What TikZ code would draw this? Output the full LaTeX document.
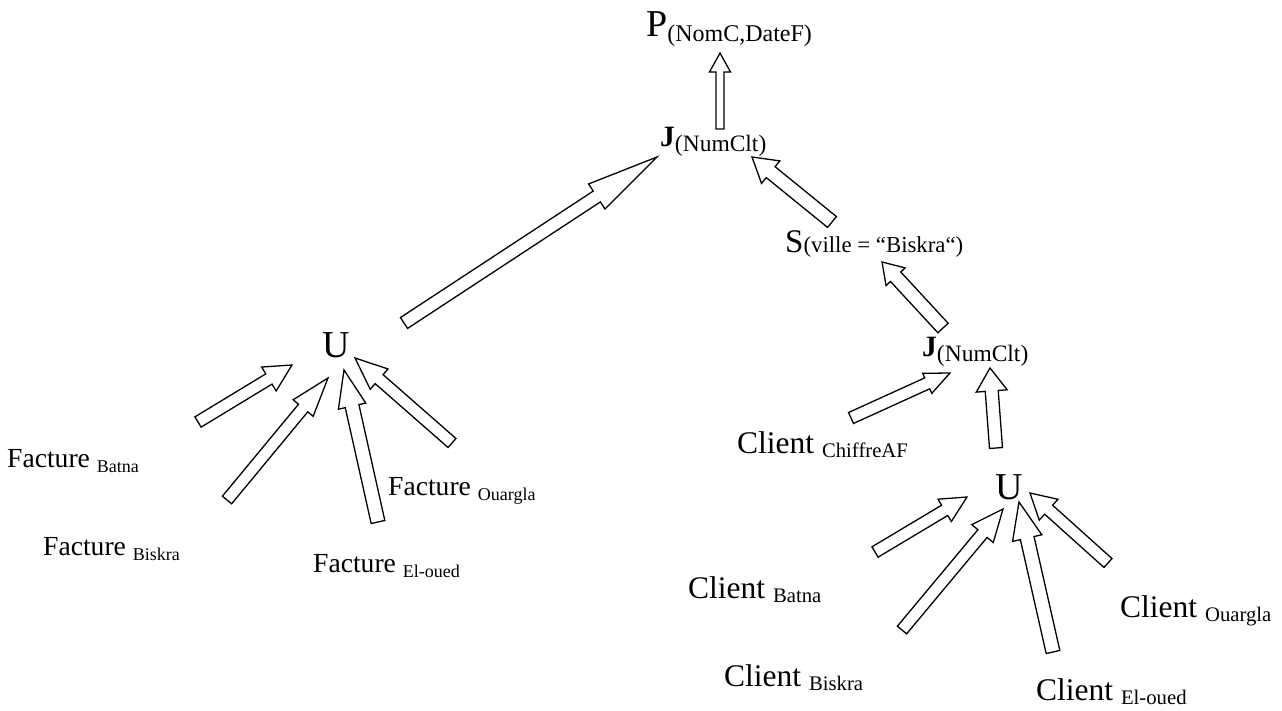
\documentclass[tikz,border=0pt]{standalone}
\usepackage{fontspec}
\setmainfont{Liberation Serif}
\usetikzlibrary{calc}

\newcommand{\sz}[2]{{\fontsize{#1}{#1}\selectfont #2}}
\newcommand{\lowr}[3][5pt]{\raisebox{-#1}{\sz{#2}{#3}}}

\tikzset{
  lbl/.style={inner sep=0pt, anchor=base west},
  bw/.code={\def\bshaft{#1}},
  hw/.code={\def\bhead{#1}},
  hl/.code={\def\blen{#1}},
  blk/.style={draw, fill=white, line width=1.3pt, line join=miter,
    bw=6pt, hw=14pt, hl=26pt,
    to path={let \p1=($(\tikztotarget)-(\tikztostart)$),
      \n1={atan2(\y1,\x1)}, \n2={veclen(\x1,\y1)} in
      ($(\tikztostart)+({\n1+90}:\bshaft)$)
      -- ($(\tikztostart)+(\n1:{\n2-\blen})+({\n1+90}:\bshaft)$)
      -- ($(\tikztostart)+(\n1:{\n2-\blen})+({\n1+90}:\bhead)$)
      -- (\tikztotarget)
      -- ($(\tikztostart)+(\n1:{\n2-\blen})+({\n1-90}:\bhead)$)
      -- ($(\tikztostart)+(\n1:{\n2-\blen})+({\n1-90}:\bshaft)$)
      -- ($(\tikztostart)+({\n1-90}:\bshaft)$) -- cycle}}
}

\begin{document}
\begin{tikzpicture}[x=1pt, y=-1pt]
  \useasboundingbox (0,0) rectangle (1282,711);

  % operators
  \node[lbl] (proj) at (646,37) {\sz{38}{P}\lowr{24}{(NomC,DateF)}};
  \node[lbl] (jn1) at (660,147) {\sz{29.5}{\bfseries J}\lowr{23.5}{(NumClt)}};
  \node[lbl] (sel) at (785,253) {\sz{33}{S}\sz{22.8}{(ville = “Biskra“)}};
  \node[lbl] (jn2) at (922,356) {\sz{29.5}{\bfseries J}\lowr{23.5}{(NumClt)}};
  \node[lbl] (un1) at (322,357) {\sz{38}{U}};
  \node[lbl] (un2) at (995,499) {\sz{38}{U}};

  % relations
  \node[lbl] (fbat) at (7,467) {\sz{27.6}{Facture \lowr{18}{Batna}}};
  \node[lbl] (fbis) at (43,555) {\sz{27.6}{Facture \lowr{18}{Biskra}}};
  \node[lbl] (foua) at (388,495) {\sz{27.6}{Facture \lowr{18}{Ouargla}}};
  \node[lbl] (felo) at (313,572) {\sz{27.6}{Facture \lowr{18}{El-oued}}};
  \node[lbl] (ccaf) at (737,453) {\sz{31.5}{Client \lowr[4pt]{20.7}{ChiffreAF}}};
  \node[lbl] (cbat) at (688,598) {\sz{31.5}{Client \lowr[4pt]{20.7}{Batna}}};
  \node[lbl] (cbis) at (724,686) {\sz{31.5}{Client \lowr[4pt]{20.7}{Biskra}}};
  \node[lbl] (coua) at (1120,617) {\sz{31.5}{Client \lowr[4pt]{20.7}{Ouargla}}};
  \node[lbl] (celo) at (1036,700) {\sz{31.5}{Client \lowr[4pt]{20.7}{El-oued}}};

  % arrow ends
  \coordinate (pa0) at (720,129);  \coordinate (pa1) at (720,53);
  \coordinate (ua0) at (404,323);  \coordinate (ua1) at (657,157);
  \coordinate (sa0) at (832,222);  \coordinate (sa1) at (752,157);
  \coordinate (ja0) at (943,328);  \coordinate (ja1) at (882,262);
  \coordinate (ca0) at (851,418);  \coordinate (ca1) at (950,373);
  \coordinate (va0) at (996,448);  \coordinate (va1) at (990,368);
  \coordinate (r10) at (875,552);  \coordinate (r11) at (967,497);
  \coordinate (r20) at (902,630);  \coordinate (r21) at (1003,509);
  \coordinate (r30) at (1053,652); \coordinate (r31) at (1019,502);
  \coordinate (r40) at (1108,563); \coordinate (r41) at (1030,493);
  \coordinate (l10) at (198,422);  \coordinate (l11) at (292,365);
  \coordinate (l20) at (227,500);  \coordinate (l21) at (328,378);
  \coordinate (l30) at (378,522);  \coordinate (l31) at (344,370);
  \coordinate (l40) at (452,443);  \coordinate (l41) at (355,358);

  % block arrows
  \draw[blk, bw=4pt, hw=10.5pt, hl=19pt] (pa0) to (pa1);
  \draw[blk, bw=6.5pt, hw=15pt, hl=72pt] (ua0) to (ua1);
  \draw[blk, bw=7pt, hw=14.5pt, hl=24pt] (sa0) to (sa1);
  \draw[blk, bw=7pt, hw=13pt, hl=20pt] (ja0) to (ja1);
  \draw[blk, hw=11pt, hl=25pt] (ca0) to (ca1);
  \draw[blk, bw=6.5pt, hw=15.5pt, hl=23pt] (va0) to (va1);

  \draw[blk, hw=13pt] (r10) to (r11);
  \draw[blk, hl=32pt] (r20) to (r21);
  \draw[blk, bw=7pt, hw=15pt, hl=37pt] (r30) to (r31);
  \draw[blk, hl=25pt] (r40) to (r41);

  \draw[blk, hl=27pt] (l10) to (l11);
  \draw[blk, hw=13pt, hl=39pt] (l20) to (l21);
  \draw[blk, bw=7pt, hl=37pt] (l30) to (l31);
  \draw[blk, hw=13.5pt, hl=32pt] (l40) to (l41);
\end{tikzpicture}
\end{document}
